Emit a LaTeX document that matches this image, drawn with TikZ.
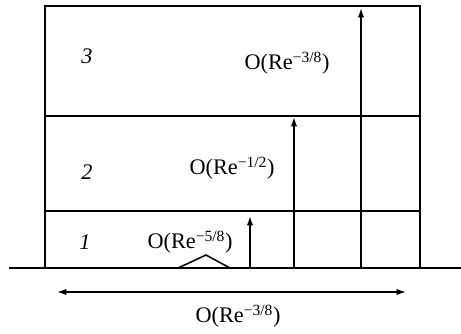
\documentclass[tikz,border=0pt]{standalone}
\usepackage{fontspec}
\setmainfont{Liberation Serif}
\usetikzlibrary{arrows.meta,positioning}
\tikzset{
layerline/.style={
  line width=1.3pt
},
wallline/.style={
  line width=2pt
},
growarrow/.style={
  -{Latex[length=2.8mm,width=1.9mm]},
  line width=1.3pt
},
spanarrow/.style={
  {Latex[length=2.8mm,width=1.9mm]}-{Latex[length=2.8mm,width=1.9mm]},
  line width=1.3pt
},
layerlabel/.style={
  font=\fontsize{19}{22}\selectfont\itshape
},
scalelabel/.style={
  font=\fontsize{19}{22}\selectfont
}
}

\begin{document}
\begin{tikzpicture}[x=0.03cm,y=-0.03cm]
  \useasboundingbox (0,0) rectangle (461,333);
  % layers
  \draw[layerline] (45,268) -- (45,6) -- (420,6) -- (420,268);
  \draw[layerline] (45,116) -- (420,116);
  \draw[layerline] (45,211) -- (420,211);
  % wall and bump
  \draw[wallline] (9,268) -- (461,268);
  \draw[layerline] (178,268) -- (206,255) -- (230,268);
  % thickness arrows
  \coordinate (foot1) at (250,268);
  \coordinate (head1) at (250,216);
  \coordinate (foot2) at (294,268);
  \coordinate (head2) at (294,117);
  \coordinate (foot3) at (361,268);
  \coordinate (head3) at (361,8);
  \draw[growarrow] (foot1) -- (head1);
  \draw[growarrow] (foot2) -- (head2);
  \draw[growarrow] (foot3) -- (head3);
  % streamwise extent
  \coordinate (spanL) at (57,292);
  \coordinate (spanR) at (406,292);
  \draw[spanarrow] (spanL) -- (spanR);
  % labels
  \node[layerlabel] (deck3) at (87,56) {3};
  \node[layerlabel] (deck2) at (87,172) {2};
  \node[layerlabel] (deck1) at (85,242) {1};
  \node[scalelabel] (size3) at (287,63) {O(Re\textsuperscript{−3/8})};
  \node[scalelabel] (size2) at (232,168) {O(Re\textsuperscript{−1/2})};
  \node[scalelabel] (size1) at (190,242) {O(Re\textsuperscript{−5/8})};
  \node[scalelabel] (spanlabel) at (238,316) {O(Re\textsuperscript{−3/8})};
\end{tikzpicture}
\end{document}
